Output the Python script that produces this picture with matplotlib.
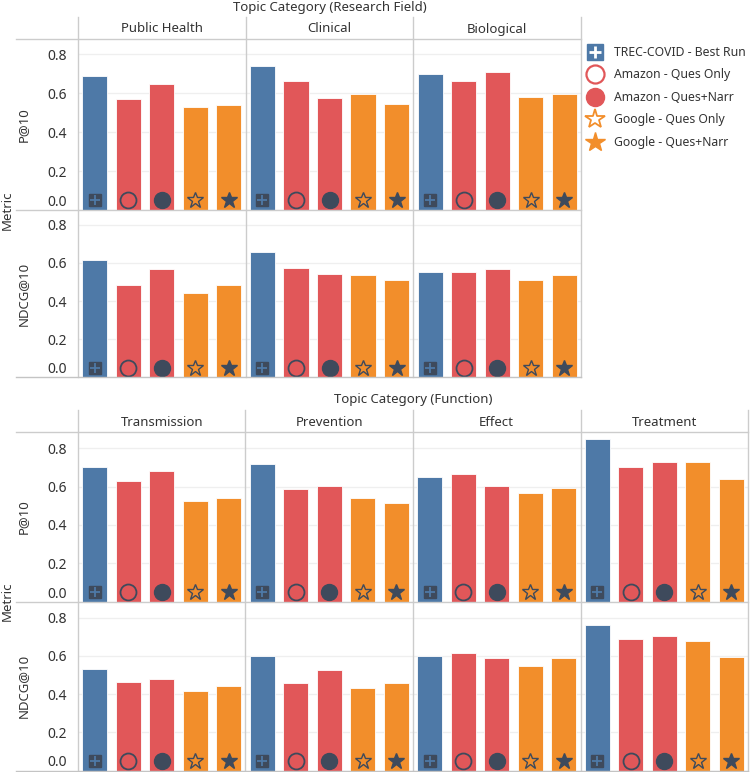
import matplotlib
matplotlib.use("Agg")
import matplotlib.pyplot as plt
from matplotlib.lines import Line2D

plt.rcParams['font.family'] = ['Noto Sans', 'DejaVu Sans']

methods = ['TREC-COVID - Best Run', 'Amazon - Ques Only', 'Amazon - Ques+Narr',
           'Google - Ques Only', 'Google - Ques+Narr']
metrics = ['P@10', 'NDCG@10']

field_cats = ['Public Health', 'Clinical', 'Biological']
field_p10 = [[0.686, 0.568, 0.646, 0.528, 0.538],
             [0.740, 0.663, 0.573, 0.595, 0.544],
             [0.697, 0.663, 0.708, 0.579, 0.595]]
field_ndcg = [[0.614, 0.486, 0.566, 0.441, 0.486],
              [0.659, 0.572, 0.542, 0.537, 0.510],
              [0.554, 0.554, 0.566, 0.510, 0.537]]

func_cats = ['Transmission', 'Prevention', 'Effect', 'Treatment']
func_p10 = [[0.704, 0.631, 0.682, 0.527, 0.539],
            [0.717, 0.586, 0.602, 0.539, 0.515],
            [0.652, 0.665, 0.602, 0.567, 0.591],
            [0.847, 0.704, 0.729, 0.729, 0.642]]
func_ndcg = [[0.534, 0.466, 0.478, 0.415, 0.441],
             [0.601, 0.459, 0.528, 0.431, 0.459],
             [0.601, 0.613, 0.591, 0.546, 0.591],
             [0.763, 0.688, 0.706, 0.676, 0.596]]

yticks = [0.0, 0.2, 0.4, 0.6, 0.8]

BLUE, RED, ORANGE = '#4e79a7', '#e15759', '#f28e2b'
bar_colors = [BLUE, RED, RED, ORANGE, ORANGE]
DARK = '#3e4a5c'
GRID = '#efefef'
LINE = '#cccccc'
TXT = '#333333'

W, H = 750, 772
fig = plt.figure(figsize=(W / 100, H / 100), dpi=100)


def fx(x):
    return x / W


def fy(y):
    return 1 - y / H


def hline(y, x0, x1, color=LINE, lw=1.0):
    fig.add_artist(Line2D([fx(x0), fx(x1)], [fy(y), fy(y)], color=color, lw=lw,
                          transform=fig.transFigure))


def vline(x, y0, y1, color=LINE, lw=1.0):
    fig.add_artist(Line2D([fx(x), fx(x)], [fy(y0), fy(y1)], color=color, lw=lw,
                          transform=fig.transFigure))


def draw_markers(ax):
    ym = 0.05
    ax.plot([0], [ym], marker='s', ms=9, color=DARK, ls='none', zorder=5)
    ax.plot([0], [ym], marker='+', ms=7, mew=1.3, color=BLUE, ls='none', zorder=6)
    ax.plot([1], [ym], marker='o', ms=11.5, mfc='none', mec=DARK, mew=1.3, ls='none', zorder=5)
    ax.plot([2], [ym], marker='o', ms=11.5, color=DARK, ls='none', zorder=5)
    ax.plot([3], [ym], marker='*', ms=12, mfc='none', mec=DARK, mew=1.0, ls='none', zorder=5)
    ax.plot([4], [ym], marker='*', ms=12, color=DARK, ls='none', zorder=5)


def section(cats, p10, ndcg, title, y_title, y_hdr_top, y_hdr, rows, ymax, right_edge, title_x):
    x0 = 78
    colw = (right_edge - x0) / len(cats)
    fig.text(fx(title_x), fy(y_title), title,
             ha='center', va='center', fontsize=9.5, color=TXT)
    for i, cat in enumerate(cats):
        cx = x0 + colw * i
        fig.text(fx(cx + colw / 2), fy((y_hdr_top + y_hdr) / 2 + 1), cat,
                 ha='center', va='center', fontsize=9.5, color=TXT)
        for r, (vals, m) in enumerate(zip([p10, ndcg], metrics)):
            ytop, ybot = rows[r]
            ax = fig.add_axes([fx(cx), fy(ybot), colw / W, (ybot - ytop) / H])
            ax.bar(range(5), vals[i], width=0.75, color=bar_colors,
                   edgecolor='white', linewidth=0.6, zorder=3)
            draw_markers(ax)
            ax.set_xlim(-0.5, 4.5)
            ax.set_ylim(0, ymax)
            ax.set_yticks(yticks)
            ax.set_xticks([])
            ax.grid(axis='y', color=GRID, lw=0.9, zorder=0)
            for s in ax.spines.values():
                s.set_visible(False)
            ax.patch.set_alpha(0)
            if i == 0:
                ax.set_yticklabels([f'{t:.1f}' for t in yticks])
                ax.tick_params(axis='y', length=0, pad=8, labelsize=10, labelcolor=TXT)
                ax.get_yticklabels()[0].set_va('bottom')
                ax.set_ylabel(m, fontsize=9.5, color=TXT)
                ax.yaxis.set_label_coords(-(48 / colw), 0.5)
            else:
                ax.tick_params(axis='y', length=0, labelleft=False)
    for i in range(len(cats) + 1):
        vline(x0 + colw * i, y_hdr_top, rows[1][1])
    hline(y_hdr, 16, right_edge)
    hline(rows[0][1], 16, right_edge)
    hline(rows[1][1], 16, right_edge, color='#c4c4c4')
    fig.text(fx(7), fy(rows[0][1]), 'Metric', rotation=90, ha='center', va='center',
             fontsize=9.5, color=TXT)


section(field_cats, field_p10, field_ndcg, 'Topic Category (Research Field)',
        8, 17, 39, [(39, 210), (210, 377.5)], 0.877, 581, 330)
section(func_cats, func_p10, func_ndcg, 'Topic Category (Function)',
        400, 410, 432, [(432, 601.5), (601.5, 770.5)], 0.885, 748, 413)

handles = [
    (Line2D([], [], marker='s', ms=12, color=BLUE, ls='none'),
     Line2D([], [], marker='+', ms=8, mew=2, color='white', ls='none')),
    Line2D([], [], marker='o', ms=13, mfc='white', mec=RED, mew=1.6, ls='none'),
    Line2D([], [], marker='o', ms=13, color=RED, ls='none'),
    Line2D([], [], marker='*', ms=15, mfc='white', mec=ORANGE, mew=1.3, ls='none'),
    Line2D([], [], marker='*', ms=15, color=ORANGE, ls='none'),
]
leg = fig.legend(handles, methods, loc='upper left', bbox_to_anchor=(fx(580), fy(41)),
                 frameon=False, fontsize=8.8, labelspacing=0.78, handletextpad=0.75,
                 handlelength=1.6, borderaxespad=0)
for t in leg.get_texts():
    t.set_color(TXT)

fig.savefig('out.png', dpi=100)
